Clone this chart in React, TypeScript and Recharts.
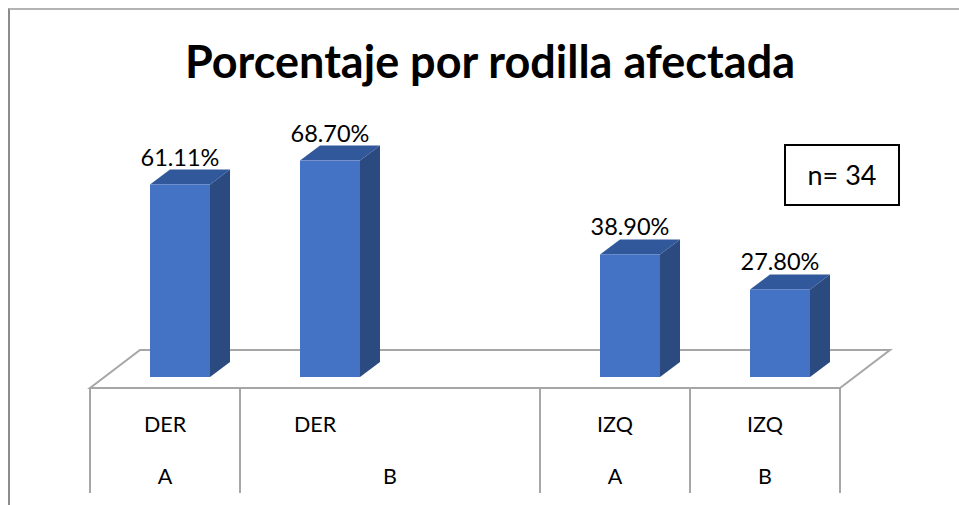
import React from 'react';
import { BarChart, Bar, XAxis, YAxis, LabelList, Customized, usePlotArea } from 'recharts';

// categories: inner row (side) and outer row (group)
const sides = ['DER', 'DER', '', 'IZQ', 'IZQ'];
const groups = ['A', 'B', 'B', 'A', 'B'];
const percents: (number | null)[] = [61.11, 68.7, null, 38.9, 27.8];
const percentLabels = ['61.11%', '68.70%', '', '38.90%', '27.80%'];

const data = sides.map((side, i) => ({
  id: `${side}-${groups[i]}-${i}`,
  side,
  group: groups[i],
  value: percents[i],
  label: percentLabels[i],
}));

const FONT = 'Lato, "Liberation Sans", sans-serif';
const FRONT = '#4472c4';
const TOP = '#32589c';
const SIDE = '#2b4a80';
const GRID = '#a6a6a6';
const DX = 20; // bar depth
const DY = 15;
const SHIFT = 15; // bar front face sits a bit back in the floor

const Bar3D = (props: any) => {
  const { x, y, width, height } = props;
  if (height == null || height <= 0) return null;
  const fx = x + SHIFT;
  return (
    <g>
      <polygon
        points={`${fx},${y} ${fx + DX},${y - DY} ${fx + width + DX},${y - DY} ${fx + width},${y}`}
        fill={TOP}
      />
      <polygon
        points={`${fx + width},${y} ${fx + width + DX},${y - DY} ${fx + width + DX},${y + height - DY} ${fx + width},${y + height}`}
        fill={SIDE}
      />
      <rect x={fx} y={y} width={width} height={height} fill={FRONT} />
    </g>
  );
};

const ValueLabel = (props: any) => {
  const { x, y, width, value } = props;
  if (!value) return null;
  return (
    <text x={x + SHIFT + width / 2} y={y - 19} textAnchor="middle" fontFamily={FONT} fontSize={23.5} fill="#000">
      {value}
    </text>
  );
};

// 3D floor under the bars
const Floor = () => {
  const area = usePlotArea();
  if (!area) return null;
  const left = area.x;
  const right = area.x + area.width;
  const front = area.y + area.height + 11;
  const back = front - 38;
  return (
    <polygon
      points={`${left},${front} ${left + 50},${back} ${right + 50},${back} ${right},${front}`}
      fill="none"
      stroke={GRID}
      strokeWidth={2}
    />
  );
};

const Overlay = () => (
  <g>
    <text x={490} y={78} textAnchor="middle" fontFamily={FONT} fontWeight="bold" fontSize={45} fill="#000">
      Porcentaje por rodilla afectada
    </text>
    <rect x={785} y={145} width={114} height={60} fill="#fff" stroke="#000" strokeWidth={2} />
    <text x={842} y={185} textAnchor="middle" fontFamily={FONT} fontSize={27} fill="#000">
      n= 34
    </text>
  </g>
);

const TableTick = (props: any) => {
  const area = usePlotArea();
  const { payload, index } = props;
  if (!area) return null;
  const i = index ?? payload.index;
  const band = area.width / data.length;
  const cx = payload.coordinate;
  const bottom = area.y + area.height;
  const top = bottom + 11;
  const end = bottom + 116;
  const startsGroup = i === 0 || groups[i] !== groups[i - 1];
  let groupCenter: number | null = null;
  if (startsGroup) {
    let j = i;
    while (j + 1 < data.length && groups[j + 1] === groups[i]) j++;
    groupCenter = cx + ((j - i) * band) / 2;
  }
  return (
    <g>
      {startsGroup && <line x1={cx - band / 2} y1={top} x2={cx - band / 2} y2={end} stroke={GRID} strokeWidth={2} />}
      {i === data.length - 1 && (
        <line x1={cx + band / 2} y1={top} x2={cx + band / 2} y2={end} stroke={GRID} strokeWidth={2} />
      )}
      <text x={cx} y={bottom + 55} textAnchor="middle" fontFamily={FONT} fontSize={21.5} fill="#000">
        {sides[i]}
      </text>
      {groupCenter !== null && (
        <text x={groupCenter} y={bottom + 107} textAnchor="middle" fontFamily={FONT} fontSize={21.5} fill="#000">
          {groups[i]}
        </text>
      )}
    </g>
  );
};

export default function App() {
  return (
    <div style={{ position: 'absolute', left: 0, top: 0, width: 959, height: 505, background: '#fff' }}>
      <div
        style={{
          position: 'absolute',
          left: 8,
          top: 8,
          right: 0,
          bottom: 0,
          borderLeft: '2px solid #8c8c8c',
          borderTop: '2px solid #b3b3b3',
        }}
      />
      <div style={{ position: 'absolute', left: 0, top: 0 }}>
        <BarChart width={959} height={505} data={data} margin={{ top: 62, right: 119, left: 90, bottom: 0 }}>
          <Customized component={<Floor />} />
          <XAxis
            dataKey="id"
            height={128}
            axisLine={false}
            tickLine={false}
            interval={0}
            tick={<TableTick />}
          />
          <YAxis hide domain={[0, 100]} />
          <Bar dataKey="value" barSize={60} shape={<Bar3D />} isAnimationActive={false}>
            <LabelList dataKey="label" content={<ValueLabel />} />
          </Bar>
          <Customized component={<Overlay />} />
        </BarChart>
      </div>
    </div>
  );
}
